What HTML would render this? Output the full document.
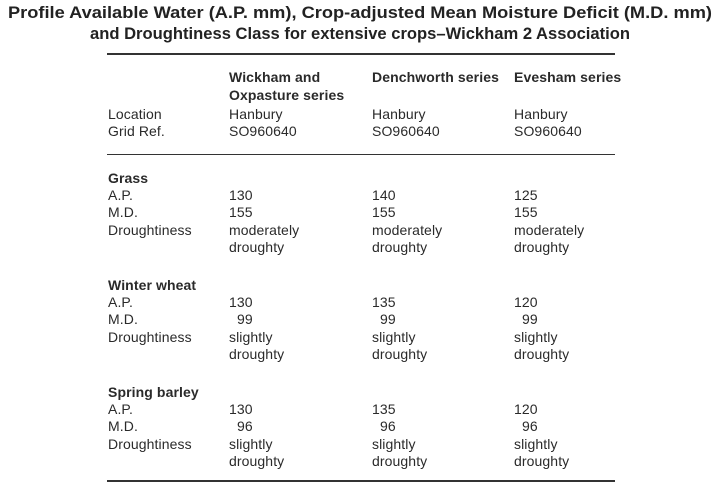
<!DOCTYPE html>
<html><head><meta charset="utf-8"><style>
body{margin:0;width:719px;height:499px;background:#fff;position:relative;overflow:hidden;font-family:"Liberation Sans",sans-serif;color:#2a2a2a}
.t{position:absolute;font-size:14px;line-height:16px;white-space:nowrap;letter-spacing:0.1px}
.b{font-weight:bold}
.rule{position:absolute;left:107px;width:508px;height:2px;background:#333}
svg{position:absolute;left:0;top:0}
</style></head><body>
<svg width="719" height="60">
<text x="8" y="18" textLength="704" lengthAdjust="spacingAndGlyphs" font-family="Liberation Sans" font-weight="bold" font-size="17" fill="#222">Profile Available Water (A.P. mm), Crop-adjusted Mean Moisture Deficit (M.D. mm)</text>
<text x="90" y="39" textLength="540" lengthAdjust="spacingAndGlyphs" font-family="Liberation Sans" font-weight="bold" font-size="17" fill="#222">and Droughtiness Class for extensive crops–Wickham 2 Association</text>
</svg>
<div class="rule" style="top:53px"></div>
<div class="rule" style="top:154px;height:1px"></div>
<div class="rule" style="top:480px"></div>
<div id="tbl"></div>
<script>
const cols=[108,229,372,514];
const header=[
 [77,[null,"Wickham and","Denchworth series","Evesham series"],true],
 [95,[null,"Oxpasture series",null,null],true],
 [114,["Location","Hanbury","Hanbury","Hanbury"],false],
 [131,["Grid Ref.","SO960640","SO960640","SO960640"],false]
];
const crops=["Grass","Winter wheat","Spring barley"];
const cropY=[178,285,392];
const ap=[[130,140,125],[130,135,120],[130,135,120]];
const md=[[155,155,155],[99,99,99],[96,96,96]];
const dr1=["moderately","slightly","slightly"];
const dr2="droughty";
const root=document.getElementById('tbl');
function put(x,y,txt,bold,name){
 const d=document.createElement('div');
 d.className='t'+(bold?' b':'');
 d.style.left=x+'px';d.style.top=(y-8)+'px';
 d.textContent=txt;
 
 
 root.appendChild(d);
}
header.forEach(([y,cells,bold])=>cells.forEach((c,i)=>{if(c)put(cols[i],y,c,bold,'header-cell');}));
crops.forEach((c,k)=>{
 const y=cropY[k];
 put(cols[0],y,c,true,'crop-heading');
 put(cols[0],y+17,"A.P.",false,'row-label');
 put(cols[0],y+34,"M.D.",false,'row-label');
 put(cols[0],y+52,"Droughtiness",false,'row-label');
 for(let i=0;i<3;i++){
  put(cols[i+1],y+17,String(ap[k][i]),false,'ap-value');
  const m=md[k][i];
  put(cols[i+1]+(m<100?8:0),y+34,String(m),false,'md-value');
  put(cols[i+1],y+52,dr1[k],false,'droughtiness-value');
  put(cols[i+1],y+69,dr2,false,'droughtiness-value');
 }
});
</script>
</body></html>
